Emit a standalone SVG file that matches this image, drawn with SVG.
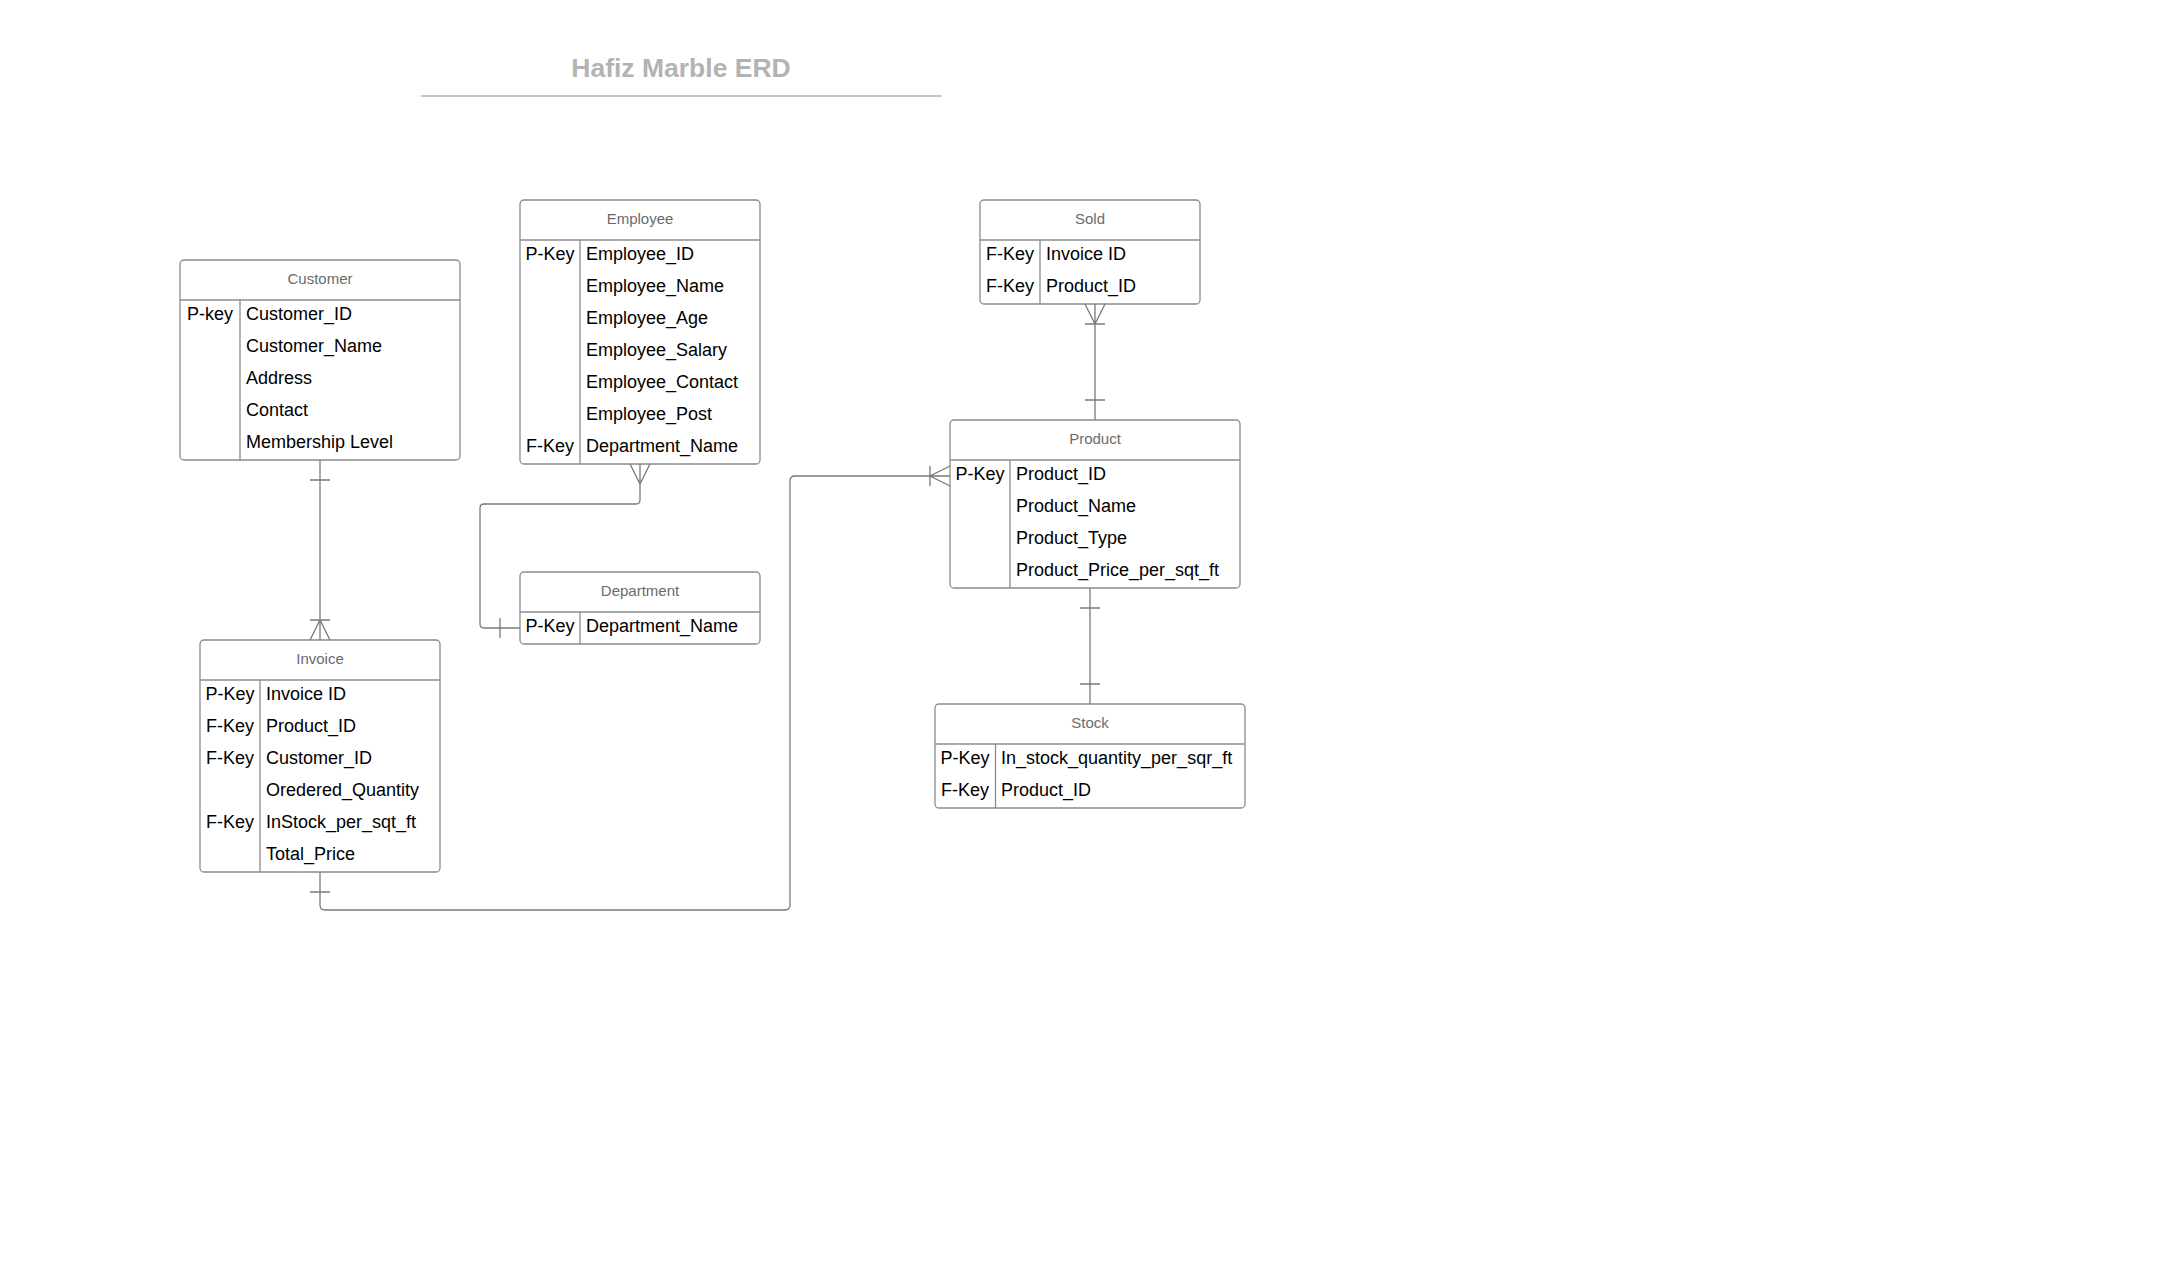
<svg xmlns="http://www.w3.org/2000/svg" width="2180" height="1280" viewBox="0 0 2180 1280">
<style>
.box{fill:#fff;stroke:#8c8c8c;stroke-width:1.3}
.ln{stroke:#8c8c8c;stroke-width:1.3;fill:none}
.hd{font-family:"Liberation Sans",Arial,sans-serif;font-size:15px;fill:#6b6b6b;text-anchor:middle}
.k{font-family:"Liberation Sans",Arial,sans-serif;font-size:18px;fill:#000;text-anchor:middle}
.f{font-family:"Liberation Sans",Arial,sans-serif;font-size:18px;fill:#000}
.c{stroke:#7a7a7a;stroke-width:1.3;fill:none}
.t{font-family:"Liberation Sans",Arial,sans-serif;font-size:26.5px;font-weight:bold;fill:#b3b3b3;text-anchor:middle}
</style>
<rect x="0" y="0" width="2180" height="1280" fill="#fff"/>
<g id="title">
<text class="t" x="681" y="77">Hafiz Marble ERD</text>
<line x1="421" y1="96" x2="942" y2="96" stroke="#b3b3b3" stroke-width="1.6"/>
</g>
<g id="customer">
<rect class="box" x="180" y="260" width="280" height="200" rx="4"/>
<line class="ln" x1="180" y1="300" x2="460" y2="300"/>
<line class="ln" x1="240" y1="300" x2="240" y2="460"/>
<text class="hd" x="320" y="284">Customer</text>
<text class="k" x="210" y="320">P-key</text>
<text class="f" x="246" y="320">Customer_ID</text>
<text class="f" x="246" y="352">Customer_Name</text>
<text class="f" x="246" y="384">Address</text>
<text class="f" x="246" y="416">Contact</text>
<text class="f" x="246" y="448">Membership Level</text>
</g>
<g id="employee">
<rect class="box" x="520" y="200" width="240" height="264" rx="4"/>
<line class="ln" x1="520" y1="240" x2="760" y2="240"/>
<line class="ln" x1="580" y1="240" x2="580" y2="464"/>
<text class="hd" x="640" y="224">Employee</text>
<text class="k" x="550" y="260">P-Key</text>
<text class="f" x="586" y="260">Employee_ID</text>
<text class="f" x="586" y="292">Employee_Name</text>
<text class="f" x="586" y="324">Employee_Age</text>
<text class="f" x="586" y="356">Employee_Salary</text>
<text class="f" x="586" y="388">Employee_Contact</text>
<text class="f" x="586" y="420">Employee_Post</text>
<text class="k" x="550" y="452">F-Key</text>
<text class="f" x="586" y="452">Department_Name</text>
</g>
<g id="sold">
<rect class="box" x="980" y="200" width="220" height="104" rx="4"/>
<line class="ln" x1="980" y1="240" x2="1200" y2="240"/>
<line class="ln" x1="1040" y1="240" x2="1040" y2="304"/>
<text class="hd" x="1090" y="224">Sold</text>
<text class="k" x="1010" y="260">F-Key</text>
<text class="f" x="1046" y="260">Invoice ID</text>
<text class="k" x="1010" y="292">F-Key</text>
<text class="f" x="1046" y="292">Product_ID</text>
</g>
<g id="product">
<rect class="box" x="950" y="420" width="290" height="168" rx="4"/>
<line class="ln" x1="950" y1="460" x2="1240" y2="460"/>
<line class="ln" x1="1010" y1="460" x2="1010" y2="588"/>
<text class="hd" x="1095" y="444">Product</text>
<text class="k" x="980" y="480">P-Key</text>
<text class="f" x="1016" y="480">Product_ID</text>
<text class="f" x="1016" y="512">Product_Name</text>
<text class="f" x="1016" y="544">Product_Type</text>
<text class="f" x="1016" y="576">Product_Price_per_sqt_ft</text>
</g>
<g id="department">
<rect class="box" x="520" y="572" width="240" height="72" rx="4"/>
<line class="ln" x1="520" y1="612" x2="760" y2="612"/>
<line class="ln" x1="580" y1="612" x2="580" y2="644"/>
<text class="hd" x="640" y="596">Department</text>
<text class="k" x="550" y="632">P-Key</text>
<text class="f" x="586" y="632">Department_Name</text>
</g>
<g id="invoice">
<rect class="box" x="200" y="640" width="240" height="232" rx="4"/>
<line class="ln" x1="200" y1="680" x2="440" y2="680"/>
<line class="ln" x1="260" y1="680" x2="260" y2="872"/>
<text class="hd" x="320" y="664">Invoice</text>
<text class="k" x="230" y="700">P-Key</text>
<text class="f" x="266" y="700">Invoice ID</text>
<text class="k" x="230" y="732">F-Key</text>
<text class="f" x="266" y="732">Product_ID</text>
<text class="k" x="230" y="764">F-Key</text>
<text class="f" x="266" y="764">Customer_ID</text>
<text class="f" x="266" y="796">Oredered_Quantity</text>
<text class="k" x="230" y="828">F-Key</text>
<text class="f" x="266" y="828">InStock_per_sqt_ft</text>
<text class="f" x="266" y="860">Total_Price</text>
</g>
<g id="stock">
<rect class="box" x="935" y="704" width="310" height="104" rx="4"/>
<line class="ln" x1="935" y1="744" x2="1245" y2="744"/>
<line class="ln" x1="995.5" y1="744" x2="995.5" y2="808"/>
<text class="hd" x="1090" y="728">Stock</text>
<text class="k" x="965" y="764">P-Key</text>
<text class="f" x="1001" y="764">In_stock_quantity_per_sqr_ft</text>
<text class="k" x="965" y="796">F-Key</text>
<text class="f" x="1001" y="796">Product_ID</text>
</g>
<g id="connectors">
<path class="c" d="M320 460 V640 M310 480 H330 M310 620 H330 M310 640 L320 620 L330 640"/>
<path class="c" d="M640 464 V500 Q640 504 636 504 H484 Q480 504 480 508 V624 Q480 628 484 628 H520 M630 464 L640 484 L650 464 M500 618 V638"/>
<path class="c" d="M1095 304 V420 M1085 304 L1095 324 L1105 304 M1085 324 H1105 M1085 400 H1105"/>
<path class="c" d="M1090 588 V704 M1080 608 H1100 M1080 684 H1100"/>
<path class="c" d="M320 872 V905 Q320 910 325 910 H785 Q790 910 790 905 V481 Q790 476 795 476 H950 M310 892 H330 M930 466 V486 M950 466 L930 476 L950 486"/>
</g>
</svg>
